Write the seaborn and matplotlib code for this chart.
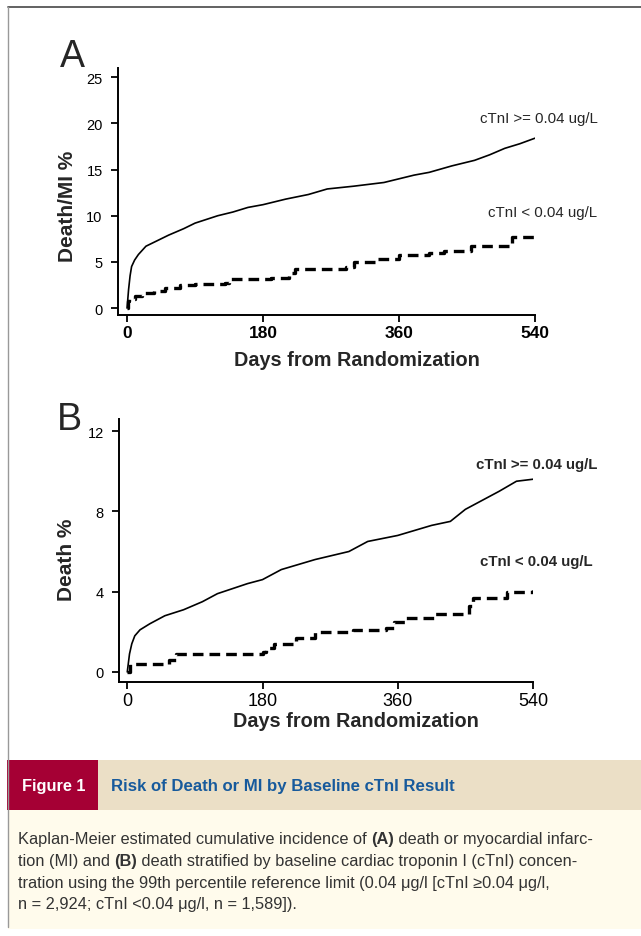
import matplotlib
matplotlib.use("Agg")
import matplotlib.pyplot as plt
from matplotlib.patches import Rectangle
from matplotlib.lines import Line2D
import seaborn as sns
import pandas as pd

sns.set_theme(style="ticks")
plt.rcParams["font.family"] = ["Liberation Sans", "DejaVu Sans"]
NARROW = ["Liberation Sans Narrow", "Liberation Sans", "DejaVu Sans"]

# ---- data ----
# panel A: death / MI %
a_hi_days = [0, 2, 4, 6, 10, 15, 25, 40, 55, 75, 90, 105, 120, 140, 160, 180, 210, 240,
             265, 300, 340, 380, 400, 430, 460, 480, 500, 520, 540]
a_hi_pct = [0, 2.0, 3.5, 4.5, 5.2, 5.8, 6.7, 7.3, 7.9, 8.6, 9.2, 9.6, 10.0, 10.4, 10.9, 11.2,
            11.8, 12.3, 12.9, 13.2, 13.6, 14.4, 14.7, 15.4, 16.0, 16.6, 17.3, 17.8, 18.4]
a_lo_days = [0, 1, 3, 10, 20, 35, 50, 70, 90, 130, 135, 190, 215, 222, 290, 300, 330, 360,
             400, 420, 455, 505, 510, 540]
a_lo_pct = [0, 0.8, 1.0, 1.3, 1.6, 1.9, 2.2, 2.5, 2.6, 2.7, 3.2, 3.3, 3.8, 4.2, 4.5, 5.0, 5.3,
            5.7, 6.0, 6.2, 6.7, 6.8, 7.7, 7.7]
# panel B: death %
b_hi_days = [0, 3, 6, 10, 17, 30, 50, 75, 100, 120, 160, 180, 205, 250, 295, 320, 360, 405,
             430, 450, 475, 495, 518, 540]
b_hi_pct = [0, 0.9, 1.4, 1.8, 2.1, 2.4, 2.8, 3.1, 3.5, 3.9, 4.4, 4.6, 5.1, 5.6, 6.0, 6.5, 6.8,
            7.3, 7.5, 8.1, 8.6, 9.0, 9.5, 9.6]
b_lo_days = [0, 3, 55, 65, 180, 185, 195, 225, 250, 300, 345, 355, 370, 410, 455, 460, 505, 540]
b_lo_pct = [0, 0.4, 0.6, 0.9, 1.0, 1.2, 1.4, 1.7, 2.0, 2.1, 2.2, 2.5, 2.7, 2.9, 3.3, 3.7, 4.0, 4.1]

x_ticks = [0, 180, 360, 540]
a_yticks = [0, 5, 10, 15, 20, 25]
b_yticks = [0, 4, 8, 12]
lab_hi = "cTnI >= 0.04 ug/L"
lab_lo = "cTnI < 0.04 ug/L"

W, H = 641, 937
fig = plt.figure(figsize=(W / 100, H / 100), dpi=100)
fig.patch.set_facecolor("white")


def fr(x, y, w, h):
    return [x / W, 1 - (y + h) / H, w / W, h / H]


def panel(rect, hi_d, hi_p, lo_d, lo_p, xlim, ylim, yticks, ylab, ylab_xy, xlab_y, bold,
          hi_pos, lo_pos):
    ax = fig.add_axes(rect)
    hi = pd.DataFrame({"day": hi_d, "pct": hi_p})
    lo = pd.DataFrame({"day": lo_d, "pct": lo_p})
    sns.lineplot(data=hi, x="day", y="pct", ax=ax, color="black", lw=1.2, estimator=None)
    sns.lineplot(data=lo, x="day", y="pct", ax=ax, color="black", lw=2.4, estimator=None,
                 drawstyle="steps-post", linestyle=(0, (3.2, 1.8)))
    ax.set_xlim(*xlim)
    ax.set_ylim(*ylim)
    ax.set_xticks(x_ticks)
    ax.set_yticks(yticks)
    ax.set_facecolor("white")
    sns.despine(ax=ax)
    for s in ("left", "bottom"):
        ax.spines[s].set_linewidth(1.4)
        ax.spines[s].set_color("black")
    ax.tick_params(axis="both", direction="out", length=5, width=1.3, colors="black")
    ax.tick_params(axis="y", labelsize=10.5, pad=6)
    if bold:
        # panel A: bold x tick labels, plain curve labels
        ax.tick_params(axis="x", labelsize=12.5, pad=2)
        for t in ax.get_xticklabels():
            t.set_fontweight("bold")
        fw = "normal"
    else:
        ax.tick_params(axis="x", labelsize=13, pad=2)
        fw = "bold"
    ax.set_xlabel("Days from Randomization", fontsize=14.3, fontweight="bold")
    ax.xaxis.set_label_coords(0.573, xlab_y)
    ax.set_ylabel(ylab, fontsize=15, fontweight="bold")
    ax.yaxis.set_label_coords(*ylab_xy)
    ax.text(hi_pos[0], hi_pos[1], lab_hi, transform=ax.transAxes, ha="right", va="center",
            fontsize=10.8, fontweight=fw)
    ax.text(lo_pos[0], lo_pos[1], lab_lo, transform=ax.transAxes, ha="right", va="center",
            fontsize=10.8, fontweight=fw)
    return ax


axA = panel(fr(118, 69, 417, 247), a_hi_days, a_hi_pct, a_lo_days, a_lo_pct,
            (-12, 540), (-0.75, 26), a_yticks, "Death/MI %", (-0.098, 0.445), -0.142, True,
            (1.151, 0.798), (1.149, 0.417))
axB = panel(fr(119, 420, 414, 263), b_hi_days, b_hi_pct, b_lo_days, b_lo_pct,
            (-11, 540), (-0.5, 12.6), b_yticks, "Death %", (-0.104, 0.468), -0.11, False,
            (1.155, 0.829), (1.143, 0.46))

fig.text(60 / W, 1 - 67 / H, "A", fontsize=27, va="baseline")
fig.text(57 / W, 1 - 430 / H, "B", fontsize=27, va="baseline")

# ---- frame and caption ----
fig.add_artist(Line2D([8 / W, 1], [1 - 7.5 / H] * 2, color="#555555", lw=1.3))
fig.add_artist(Line2D([8 / W] * 2, [1 - 7.5 / H, 1 - 928 / H], color="#999999", lw=1))
fig.patches.append(Rectangle((8 / W, 1 - 930 / H), 1 - 8 / W, 119 / H, transform=fig.transFigure,
                             facecolor="#fffbec", edgecolor="none", zorder=0))
fig.patches.append(Rectangle((98 / W, 1 - 811 / H), 1 - 98 / W, 50 / H, transform=fig.transFigure,
                             facecolor="#ebdfc6", edgecolor="none", zorder=0))
fig.patches.append(Rectangle((7 / W, 1 - 811 / H), 91 / W, 50 / H, transform=fig.transFigure,
                             facecolor="#a50034", edgecolor="none", zorder=0))
fig.text(22 / W, 1 - 786 / H, "Figure 1", color="white", fontsize=11.8, fontweight="bold",
         va="center", family=NARROW)
fig.text(111 / W, 1 - 786 / H, "Risk of Death or MI by Baseline cTnI Result", color="#175a9c",
         fontsize=12.1, fontweight="bold", va="center", family=NARROW)

caption = [
    [("Kaplan-Meier estimated cumulative incidence of ", "normal"), ("(A)", "bold"),
     (" death or myocardial infarc-", "normal")],
    [("tion (MI) and ", "normal"), ("(B)", "bold"),
     (" death stratified by baseline cardiac troponin I (cTnI) concen-", "normal")],
    [("tration using the 99th percentile reference limit (0.04 \u03bcg/l [cTnI \u22650.04 \u03bcg/l,",
      "normal")],
    [("n = 2,924; cTnI <0.04 \u03bcg/l, n = 1,589]).", "normal")],
]
line_y = [840, 862, 884, 905]
fig.canvas.draw()
r = fig.canvas.get_renderer()
for parts, py in zip(caption, line_y):
    x = 18
    for txt, wt in parts:
        t = fig.text(x / W, 1 - py / H, txt, fontsize=11.8, fontweight=wt, color="#333333",
                     va="center", family=NARROW)
        x += t.get_window_extent(renderer=r).width

fig.savefig("out.png", dpi=100, facecolor="white")
